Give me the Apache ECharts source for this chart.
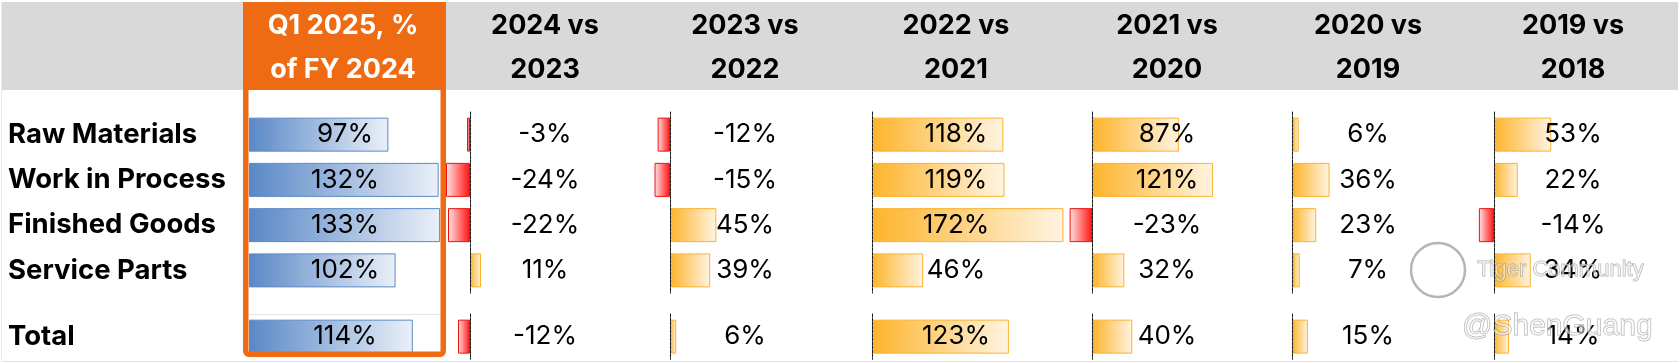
<!DOCTYPE html>
<html><head><meta charset="utf-8">
<script src="https://cdn.jsdelivr.net/npm/echarts@6/dist/echarts.min.js"></script>
<style>html,body{margin:0;padding:0;background:#fff}#c{width:1680px;height:363px}</style>
</head><body><div id="c"></div>
<script>
// ---------- data ----------
const categories = ['Raw Materials', 'Work in Process', 'Finished Goods', 'Service Parts'];
const totalCategory = ['Total'];
const headers = ['Q1 2025, %\nof FY 2024', '2024 vs\n2023', '2023 vs\n2022', '2022 vs\n2021', '2021 vs\n2020', '2020 vs\n2019', '2019 vs\n2018'];
const q1PctOfFy2024 = [97, 132, 133, 102];
const chg2024vs2023 = [-3, -24, -22, 11];
const chg2023vs2022 = [-12, -15, 45, 39];
const chg2022vs2021 = [118, 119, 172, 46];
const chg2021vs2020 = [87, 121, -23, 32];
const chg2020vs2019 = [6, 36, 23, 7];
const chg2019vs2018 = [53, 22, -14, 34];
const totals = [114, -12, 6, 123, 40, 15, 14];
const columnValues = [q1PctOfFy2024, chg2024vs2023, chg2023vs2022, chg2022vs2021, chg2021vs2020, chg2020vs2019, chg2019vs2018];

// ---------- layout ----------
const FONT = 'Inter, "Noto Sans", sans-serif';
const layout = [
  { zero: 249, scale: 1.437, label: 345 },
  { zero: 470, scale: 1.0, label: 545 },
  { zero: 670, scale: 1.03, label: 745 },
  { zero: 872, scale: 1.113, label: 956 },
  { zero: 1092.5, scale: 0.995, label: 1167 },
  { zero: 1292.5, scale: 1.03, label: 1368 },
  { zero: 1494, scale: 1.08, label: 1573 }
];
const parts = [{ top: 112, height: 181 }, { top: 314, height: 45.3 }];
const G = echarts.graphic.LinearGradient;
const blueStyle = () => ({ color: new G(0, 0, 1, 0, [{ offset: 0, color: '#5A88C6' }, { offset: 1, color: '#EAF0F8' }]), borderColor: '#5B8AC6', borderWidth: 1 });
const posStyle = () => ({ color: new G(0, 0, 1, 0, [{ offset: 0, color: '#FDB42B' }, { offset: 1, color: '#FFF4E2' }]), borderColor: '#FDB22E', borderWidth: 1 });
const negStyle = () => ({ color: new G(0, 0, 1, 0, [{ offset: 0, color: '#FFE4E4' }, { offset: 1, color: '#FF1010' }]), borderColor: '#F01010', borderWidth: 1 });

const grid = [], xAxis = [], yAxis = [], series = [];
layout.forEach((L, ci) => {
  [0, 1].forEach(p => {
    const gi = ci * 2 + p;
    const cats = p === 0 ? categories : totalCategory;
    const vals = p === 0 ? columnValues[ci] : [totals[ci]];
    const negPx = ci === 0 ? 0 : 30;
    const W = ci === 0 ? 192 : 230;
    const left = L.zero - negPx;
    grid.push({ left: left, top: parts[p].top, width: W, height: parts[p].height, outerBoundsMode: 'none' });
    xAxis.push({ gridIndex: gi, type: 'value', min: -negPx / L.scale, max: (W - negPx) / L.scale, show: false });
    yAxis.push({
      gridIndex: gi, type: 'category', data: cats, inverse: true, position: 'left', z: 3,
      axisLine: { show: ci > 0, onZero: true, lineStyle: { color: '#1a1a1a', width: 1, type: [3, 1] } },
      axisTick: { show: false }, splitLine: { show: false },
      axisLabel: { show: ci === 0, margin: L.zero - 8, align: 'left', fontFamily: FONT, fontWeight: 700, fontSize: 27.5, color: '#000' }
    });
    yAxis.push({
      gridIndex: gi, type: 'category', data: cats, inverse: true, position: 'left', z: 20,
      offset: -(L.label - left),
      axisLine: { show: false, onZero: false }, axisTick: { show: false }, splitLine: { show: false },
      axisLabel: { margin: 0, align: 'center', fontFamily: FONT, fontSize: 26, color: '#000', formatter: (v, i) => vals[i] + '%' }
    });
    series.push({
      type: 'bar', xAxisIndex: gi, yAxisIndex: gi * 2, barWidth: 34, silent: true, z: 2,
      data: vals.map(v => ({ value: v, itemStyle: ci === 0 ? blueStyle() : (v < 0 ? negStyle() : posStyle()) }))
    });
  });
});

const graphic = [
  { type: 'rect', shape: { x: 2, y: 2, width: 1676, height: 88 }, style: { fill: '#D9D9D9' }, z: 1 },
  { type: 'rect', shape: { x: 243, y: 2, width: 203, height: 88 }, style: { fill: '#EE6B13' }, z: 2 },
  { type: 'line', shape: { x1: 248, y1: 314.5, x2: 441, y2: 314.5 }, style: { stroke: '#E6E6E6', lineWidth: 1 }, z: 1 },
  { type: 'line', shape: { x1: 2, y1: 361.5, x2: 1678, y2: 361.5 }, style: { stroke: '#E3E3E3', lineWidth: 1 }, z: 1 },
  { type: 'line', shape: { x1: 1.5, y1: 2, x2: 1.5, y2: 361 }, style: { stroke: '#EBEBEB', lineWidth: 1 }, z: 1 },
  { type: 'rect', shape: { x: 245.75, y: 4.75, width: 197.5, height: 349.5, r: 3 }, style: { fill: 'none', stroke: '#EE6B13', lineWidth: 5.5 }, z: 100 }
];
headers.forEach((h, ci) => {
  graphic.push({
    type: 'text', z: 101,
    style: { text: h, x: ci === 0 ? 343 : layout[ci].label, y: 48, align: 'center', verticalAlign: 'middle', lineHeight: 44,
      font: '700 27px ' + FONT, fill: ci === 0 ? '#fff' : '#000' }
  });
});
// watermark from the source image
graphic.push({ type: 'circle', shape: { cx: 1438, cy: 270, r: 27 }, style: { fill: 'none', stroke: 'rgba(120,120,120,0.55)', lineWidth: 2.5 }, z: 120 });
graphic.push({ type: 'text', z: 120, style: { text: 'Tiger Community', x: 1477, y: 270, align: 'left', verticalAlign: 'middle', font: '22px "Liberation Sans", Arial', fill: 'rgba(255,255,255,0.55)', stroke: 'rgba(110,110,110,0.55)', lineWidth: 1 } });
graphic.push({ type: 'text', z: 120, style: { text: '@ShenGuang', x: 1462, y: 327, align: 'left', verticalAlign: 'middle', font: '30px "Liberation Sans", Arial', fill: 'rgba(255,255,255,0.55)', stroke: 'rgba(110,110,110,0.55)', lineWidth: 1 } });

const chart = echarts.init(document.getElementById('c'), null, { renderer: 'canvas' });
chart.setOption({ animation: false, backgroundColor: '#fff', grid, xAxis, yAxis, series, graphic });
</script></body></html>
